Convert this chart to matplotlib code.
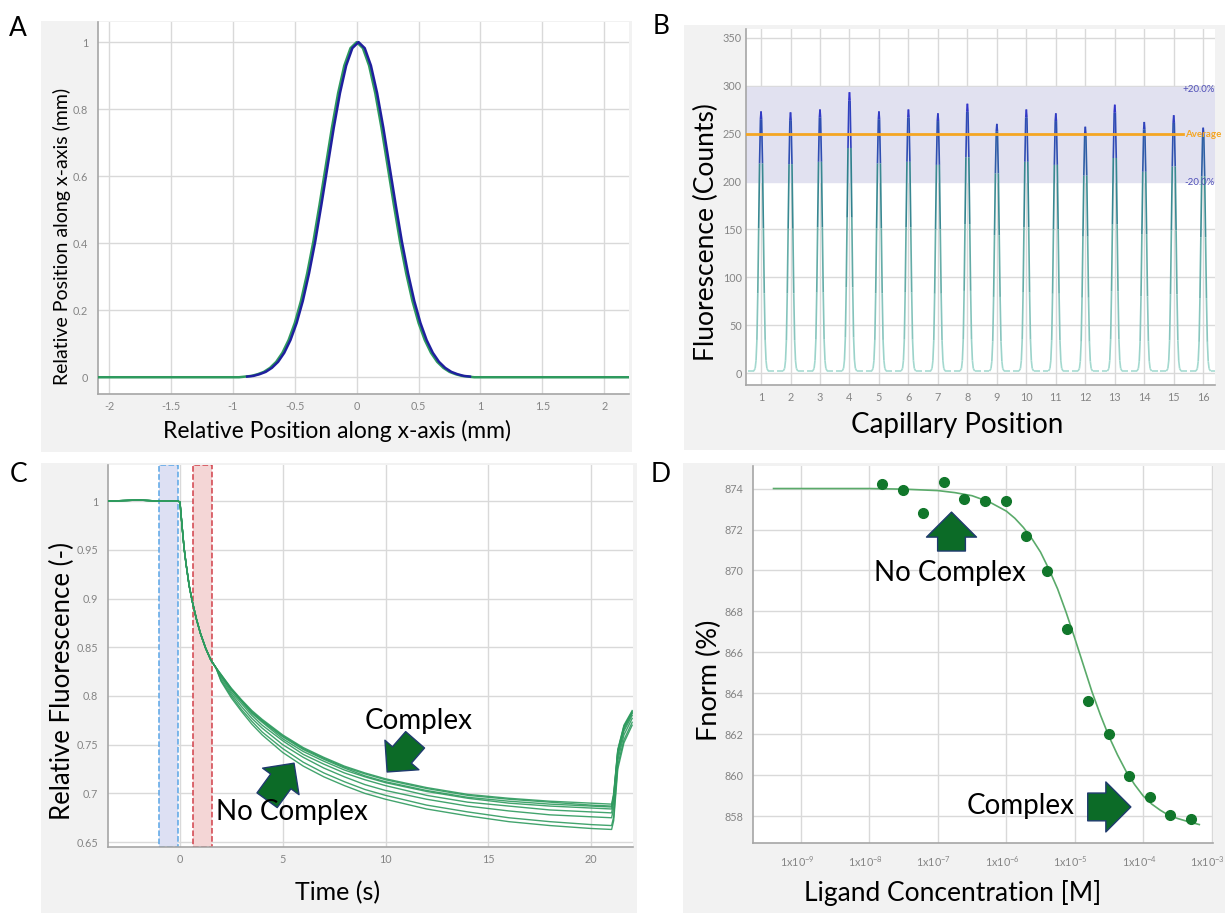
import numpy as np
import matplotlib
matplotlib.use('Agg')
import matplotlib.pyplot as plt
import matplotlib.transforms as mtransforms
from matplotlib.collections import LineCollection
from matplotlib.colors import LinearSegmentedColormap, Normalize
from matplotlib.patches import Rectangle
from matplotlib.ticker import FixedLocator, NullLocator

W, H = 1225, 913
plt.rcParams['font.family'] = ['Lato', 'DejaVu Sans']
plt.rcParams['mathtext.default'] = 'regular'

# ---------------- data ----------------
# A: beam profile (half profile, mirrored), mm vs relative intensity
prof_half_x = [0.0, 0.05, 0.10, 0.15, 0.20, 0.25, 0.30, 0.35, 0.40, 0.45, 0.50,
               0.55, 0.60, 0.65, 0.70, 0.75, 0.80, 0.85, 0.90, 0.95, 1.00]
prof_half_y = [1.000, 0.982, 0.930, 0.848, 0.745, 0.630, 0.515, 0.405, 0.310, 0.228, 0.162,
               0.111, 0.073, 0.046, 0.028, 0.016, 0.009, 0.004, 0.002, 0.000, 0.000]
blue_center = 0.015

# B: capillary scan
cap_pos = [1, 2, 3, 4, 5, 6, 7, 8, 9, 10, 11, 12, 13, 14, 15, 16]
cap_height = [273, 272, 275, 293, 273, 275, 271, 281, 260, 275, 271, 257, 280, 262, 269, 256]
cap_baseline = 2
peak_offsets = [-0.45, -0.25, -0.20, -0.17, -0.14, -0.11, -0.08, -0.05, -0.02, 0.0,
                0.02, 0.05, 0.08, 0.11, 0.14, 0.17, 0.20, 0.25, 0.45]
peak_profile = [0.0, 0.0, 0.01, 0.04, 0.12, 0.30, 0.55, 0.80, 0.97, 1.0,
                0.97, 0.80, 0.55, 0.30, 0.12, 0.04, 0.01, 0.0, 0.0]
cap_average = 249
cap_band = [199.2, 298.8]

# C: MST time traces
t_early = [-3.5, -2.0, -1.0, -0.1, 0.0, 0.1, 0.2, 0.3, 0.45, 0.6, 0.8, 1.0, 1.25, 1.5, 1.75]
f_early = [1.0, 1.001, 1.0, 1.0, 0.999, 0.975, 0.952, 0.935, 0.913, 0.897, 0.879, 0.864, 0.849, 0.837, 0.829]
t_late = [2, 2.5, 3, 3.5, 4, 5, 6, 7, 8, 9, 10, 12, 14, 16, 18, 20, 21, 21.1, 21.3, 21.6, 22]
f_late = [
    [0.822, 0.808, 0.796, 0.785, 0.776, 0.760, 0.747, 0.737, 0.728, 0.721, 0.715, 0.706, 0.699, 0.695, 0.692, 0.690, 0.689, 0.700, 0.745, 0.770, 0.785],
    [0.822, 0.807, 0.795, 0.784, 0.775, 0.759, 0.746, 0.736, 0.727, 0.720, 0.714, 0.705, 0.698, 0.694, 0.691, 0.688, 0.687, 0.698, 0.744, 0.769, 0.784],
    [0.821, 0.807, 0.795, 0.783, 0.774, 0.758, 0.745, 0.735, 0.726, 0.718, 0.712, 0.703, 0.696, 0.692, 0.689, 0.687, 0.686, 0.697, 0.743, 0.768, 0.783],
    [0.821, 0.806, 0.794, 0.782, 0.773, 0.756, 0.743, 0.733, 0.724, 0.717, 0.711, 0.702, 0.695, 0.690, 0.687, 0.685, 0.684, 0.695, 0.741, 0.766, 0.782],
    [0.820, 0.804, 0.792, 0.780, 0.770, 0.754, 0.740, 0.730, 0.721, 0.714, 0.708, 0.698, 0.691, 0.687, 0.683, 0.681, 0.680, 0.691, 0.738, 0.764, 0.780],
    [0.818, 0.802, 0.789, 0.777, 0.767, 0.750, 0.737, 0.726, 0.717, 0.709, 0.703, 0.694, 0.687, 0.682, 0.678, 0.676, 0.675, 0.685, 0.734, 0.760, 0.777],
    [0.816, 0.800, 0.786, 0.774, 0.763, 0.746, 0.732, 0.721, 0.712, 0.704, 0.698, 0.688, 0.681, 0.675, 0.671, 0.668, 0.667, 0.676, 0.729, 0.755, 0.773],
    [0.815, 0.798, 0.784, 0.771, 0.760, 0.742, 0.728, 0.717, 0.708, 0.700, 0.694, 0.684, 0.677, 0.671, 0.667, 0.664, 0.663, 0.672, 0.725, 0.752, 0.770],
]
cold_region = [-1.0, -0.1]
hot_region = [0.65, 1.55]

# D: dose response
lig_conc = [1.53e-8, 3.05e-8, 6.1e-8, 1.22e-7, 2.44e-7, 4.88e-7, 9.77e-7, 1.95e-6,
            3.91e-6, 7.81e-6, 1.56e-5, 3.13e-5, 6.25e-5, 1.25e-4, 2.5e-4, 5e-4]
fnorm = [874.23, 873.92, 872.83, 874.31, 873.50, 873.38, 873.38, 871.68,
         869.99, 867.13, 863.65, 862.02, 859.97, 858.93, 858.09, 857.88]
fit_logc = [-9.4, -8.0, -7.5, -7.0, -6.75, -6.5, -6.25, -6.0, -5.875, -5.75, -5.625, -5.5,
            -5.375, -5.25, -5.125, -5.0, -4.875, -4.75, -4.625, -4.5, -4.375, -4.25,
            -4.125, -4.0, -3.875, -3.75, -3.625, -3.5, -3.35, -3.18]
fit_fnorm = [874.0, 874.0, 873.97, 873.9, 873.8, 873.65, 873.35, 872.9, 872.55, 872.1, 871.55, 870.9,
             870.05, 869.1, 867.95, 866.7, 865.4, 864.1, 862.95, 861.9, 861.0, 860.2,
             859.55, 859.0, 858.6, 858.3, 858.05, 857.9, 857.75, 857.6]

# ---------------- styling helpers ----------------
GREEN = '#2e9a5e'
GRID = '#d9d9d9'
TICK = '#858585'
ARROW_FC = '#0c6b27'
ARROW_EC = '#1f3a6e'

fig = plt.figure(figsize=(W / 100, H / 100), dpi=100)


def panel_bg(l, t, r, b):
    fig.patches.append(Rectangle((l / W, 1 - b / H), (r - l) / W, (b - t) / H,
                                 transform=fig.transFigure, facecolor='#f2f2f2',
                                 edgecolor='none', zorder=-5))


def make_axes(l, t, r, b):
    ax = fig.add_axes([l / W, 1 - b / H, (r - l) / W, (b - t) / H])
    ax.set_facecolor('white')
    for s in ['top', 'right']:
        ax.spines[s].set_visible(False)
    for s in ['left', 'bottom']:
        ax.spines[s].set_color('#a6a6a6')
        ax.spines[s].set_linewidth(1.2)
    ax.grid(True, color=GRID, lw=1)
    ax.set_axisbelow(True)
    ax.tick_params(length=0, labelsize=7.8, labelcolor=TICK)
    ax.tick_params(axis='y', pad=7)
    ax.tick_params(axis='x', pad=5)
    return ax


def ftext(px, py, s, **kw):
    fig.text(px / W, 1 - py / H, s, ha='center', va='center', **kw)


def trim(v):
    return ('%g' % v)


def block_arrow(ax, tip, tail, scale, hw=1.8, hl=0.9, tw=1.0):
    ax.annotate('', xy=tip, xytext=tail,
                arrowprops=dict(arrowstyle='simple,head_width=%g,head_length=%g,tail_width=%g' % (hw, hl, tw),
                                mutation_scale=scale, fc=ARROW_FC, ec=ARROW_EC, lw=1,
                                shrinkA=0, shrinkB=0))

# ---------------- panel A ----------------
panel_bg(41, 21, 632, 452)
axA = make_axes(98, 22, 629, 394)
ax_x = [-v for v in prof_half_x[::-1]] + prof_half_x[1:]
ax_y = prof_half_y[::-1] + prof_half_y[1:]
axA.plot([-2.09] + ax_x + [2.2], [0] + ax_y + [0], color=GREEN, lw=1.8, zorder=3)
axA.plot(np.array(ax_x[2:-2]) + blue_center, ax_y[2:-2], color='#1f1f9e', lw=1.8, zorder=4)
axA.set_xlim(-2.09, 2.2)
axA.set_ylim(-0.05, 1.06)
axA.set_xticks([-2, -1.5, -1, -0.5, 0, 0.5, 1, 1.5, 2])
axA.set_xticklabels([trim(v) for v in [-2, -1.5, -1, -0.5, 0, 0.5, 1, 1.5, 2]])
axA.set_yticks([0, 0.2, 0.4, 0.6, 0.8, 1])
axA.set_yticklabels([trim(v) for v in [0, 0.2, 0.4, 0.6, 0.8, 1]])
ftext(337, 431, 'Relative Position along x-axis (mm)', fontsize=16.5)
ftext(62, 236, 'Relative Position along x-axis (mm)', fontsize=14, rotation=90)
ftext(18, 28, 'A', fontsize=19)

# ---------------- panel B ----------------
panel_bg(684, 25, 1225, 450)
axB = make_axes(746, 29, 1215, 385)
axB.tick_params(axis='y', pad=3)
axB.axhspan(cap_band[0], cap_band[1], color='#e1e1f0', zorder=1)
cmap = LinearSegmentedColormap.from_list('cap', [(0, '#a8dcd2'), (0.45, '#5fa9a4'), (0.72, '#2d7f8c'),
                                                 (0.86, '#2e4fb0'), (1.0, '#3333cc')])
norm = Normalize(0, 280)
segs, cols = [], []
for pos, h in zip(cap_pos, cap_height):
    xs = [pos + o for o in peak_offsets]
    ys = [cap_baseline + (h - cap_baseline) * p for p in peak_profile]
    for i in range(len(xs) - 1):
        segs.append([(xs[i], ys[i]), (xs[i + 1], ys[i + 1])])
        cols.append(cmap(norm(0.5 * (ys[i] + ys[i + 1]))))
axB.add_collection(LineCollection(segs, colors=cols, linewidths=1.2, zorder=3))
axB.plot([0.49, 15.3], [cap_average, cap_average], color='#f5a623', lw=2, zorder=4)
axB.text(15.38, cap_average, 'Average', color='#f5a623', fontsize=7, ha='left', va='center',
         fontweight='bold', zorder=5)
axB.text(16.38, cap_band[1] - 3, '+20.0%', color='#5050b8', fontsize=7, ha='right', va='center', zorder=5)
axB.text(16.38, cap_band[0], '-20.0%', color='#5050b8', fontsize=7, ha='right', va='center', zorder=5)
axB.set_xlim(0.49, 16.4)
axB.set_ylim(-12.5, 359)
axB.set_xticks(cap_pos)
axB.set_yticks([0, 50, 100, 150, 200, 250, 300, 350])
ftext(957, 425, 'Capillary Position', fontsize=20)
ftext(706, 232, 'Fluorescence (Counts)', fontsize=19, rotation=90)
ftext(661, 27, 'B', fontsize=19)

# ---------------- panel C ----------------
panel_bg(41, 463, 637, 913)
axC = make_axes(108, 465, 633, 847)
axC.axvspan(cold_region[0], cold_region[1], facecolor='#dde0f3', edgecolor='#5aa6e6', ls='--', lw=1.1, zorder=1)
axC.axvspan(hot_region[0], hot_region[1], facecolor='#f4d6d6', edgecolor='#d2404a', ls='--', lw=1.1, zorder=1)
for tr in f_late:
    axC.plot(t_early + t_late, f_early + tr, color=GREEN, lw=1.0, alpha=0.9, zorder=3)
axC.set_xlim(-3.5, 22.04)
axC.set_ylim(0.645, 1.037)
axC.set_xticks([0, 5, 10, 15, 20])
yc = [0.65, 0.7, 0.75, 0.8, 0.85, 0.9, 0.95, 1]
axC.set_yticks(yc)
axC.set_yticklabels([trim(v) for v in yc])
axC.text(11.63, 0.774, 'Complex', fontsize=20, ha='center', va='center', zorder=6)
axC.text(5.45, 0.681, 'No Complex', fontsize=20, ha='center', va='center', zorder=6)
block_arrow(axC, (10.08, 0.722), (11.44, 0.755), 18)
block_arrow(axC, (5.55, 0.731), (4.24, 0.693), 18)
ftext(338, 893, 'Time (s)', fontsize=18)
ftext(62, 681, 'Relative Fluorescence (-)', fontsize=18.5, rotation=90)
ftext(19, 475, 'C', fontsize=19)

# ---------------- panel D ----------------
panel_bg(683, 463, 1225, 913)
axD = make_axes(753, 466, 1213, 843)
axD.set_xscale('log')
axD.plot([10 ** v for v in fit_logc], fit_fnorm, color='#5aaa6a', lw=1.2, zorder=3)
axD.plot(lig_conc, fnorm, 'o', color='#11772b', ms=7, zorder=4)
axD.set_xlim(10 ** -9.70, 10 ** -2.98)
axD.set_ylim(856.7, 875.1)
dec = [-9, -8, -7, -6, -5, -4, -3]
axD.xaxis.set_major_locator(FixedLocator([10.0 ** d for d in dec]))
axD.xaxis.set_minor_locator(NullLocator())
axD.set_xticklabels(['1x10$^{%d}$' % d for d in dec])
axD.tick_params(axis='x', pad=8)
shift = mtransforms.ScaledTranslation(-4 / 100, 0, fig.dpi_scale_trans)
for lab in axD.get_xticklabels():
    lab.set_transform(lab.get_transform() + shift)
axD.set_yticks(list(range(858, 876, 2)))
axD.text(10 ** -6.82, 869.9, 'No Complex', fontsize=20, ha='center', va='center', zorder=6)
axD.text(10 ** -5.79, 858.5, 'Complex', fontsize=20, ha='center', va='center', zorder=6)
block_arrow(axD, (10 ** -6.80, 872.85), (10 ** -6.80, 870.95), 20)
block_arrow(axD, (10 ** -4.18, 858.46), (10 ** -4.81, 858.46), 20)
ftext(953, 893, 'Ligand Concentration [M]', fontsize=19)
ftext(709, 680, 'Fnorm (%)', fontsize=19.5, rotation=90)
ftext(661, 475, 'D', fontsize=19)

fig.savefig('out.png', dpi=100)
